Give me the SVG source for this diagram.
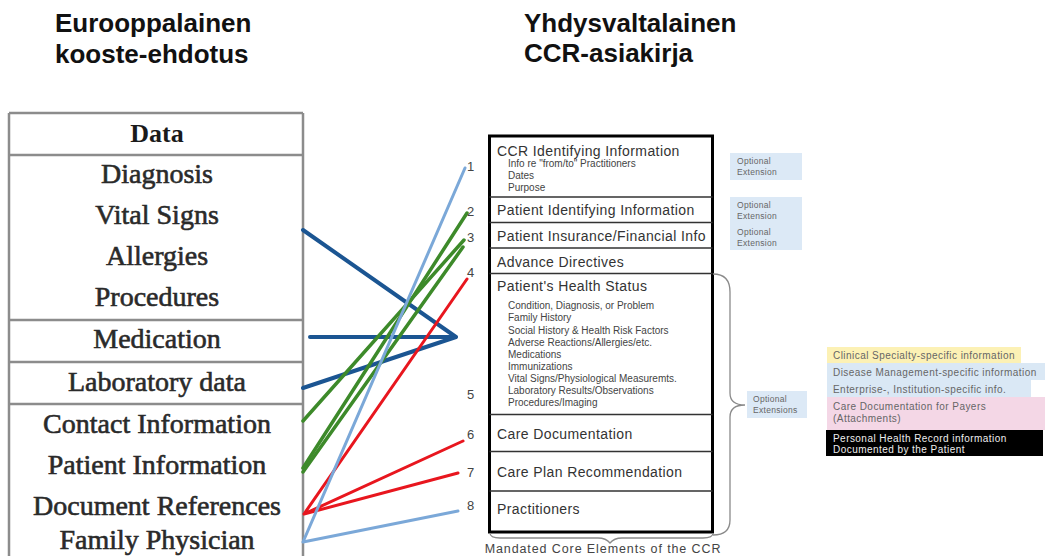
<svg xmlns="http://www.w3.org/2000/svg" width="1045" height="556" viewBox="0 0 1045 556">
<style>
.h{font-family:"Liberation Sans",Arial,sans-serif;font-weight:bold;font-size:26px;fill:#111}
.t{font-family:"Liberation Serif","Times New Roman",serif;font-size:28px;fill:#2a2a2a;stroke:#2a2a2a;stroke-width:0.6;text-anchor:middle}
.tb{font-family:"Liberation Serif","Times New Roman",serif;font-size:26px;font-weight:bold;fill:#1a1a1a;text-anchor:middle}
.grid{stroke:#8c8c8c;stroke-width:2.5;fill:none}
.c1{font-family:"Liberation Sans",Arial,sans-serif;font-size:14px;letter-spacing:0.4px;fill:#333}
.c2{font-family:"Liberation Sans",Arial,sans-serif;font-size:10px;fill:#444}
.num{font-family:"Liberation Sans",Arial,sans-serif;font-size:13px;fill:#444}
.sm{font-family:"Liberation Sans",Arial,sans-serif;font-size:8.5px;letter-spacing:0.3px;fill:#666}
.ext{font-family:"Liberation Sans",Arial,sans-serif;font-size:10px;letter-spacing:0.45px;fill:#666}
.div{stroke:#333;stroke-width:1.6}
.brace{stroke:#8a8a8a;stroke-width:1.3;fill:none}
.db{stroke:#1b5592;stroke-width:4;fill:none;stroke-linecap:round}
.gr{stroke:#3d8a2a;stroke-width:3.5;fill:none;stroke-linecap:round}
.rd{stroke:#e8161e;stroke-width:3;fill:none;stroke-linecap:round}
.lb{stroke:#7ba8d8;stroke-width:3;fill:none;stroke-linecap:round}
</style>
<rect width="1045" height="556" fill="#fff"/>
<g id="titles">
<text class="h" x="55" y="32">Eurooppalainen</text>
<text class="h" x="55" y="63">kooste-ehdotus</text>
<text class="h" x="524" y="32">Yhdysvaltalainen</text>
<text class="h" x="524" y="62">CCR-asiakirja</text>
</g>
<g id="eu-table">
<path class="grid" d="M9,113 H303 M9,155 H303 M9,320 H303 M9,362 H303 M9,404 H303 M9,113 V556 M303,113 V556"/>
<text class="tb" x="157" y="142">Data</text>
<text class="t" x="157" y="183">Diagnosis</text>
<text class="t" x="157" y="224">Vital Signs</text>
<text class="t" x="157" y="265">Allergies</text>
<text class="t" x="157" y="306">Procedures</text>
<text class="t" x="157" y="348">Medication</text>
<text class="t" x="157" y="391">Laboratory data</text>
<text class="t" x="157" y="433">Contact Information</text>
<text class="t" x="157" y="474">Patient Information</text>
<text class="t" x="157" y="515">Document References</text>
<text class="t" x="157" y="549">Family Physician</text>
</g>
<g id="connectors">
<path class="db" d="M303,230 L456,337 M310,337 H456 M303,388 L456,337"/>
<path class="gr" d="M303,421 L464,240"/>
<path class="gr" d="M303,468 L467,213"/>
<path class="gr" d="M303,472 L463,247"/>
<path class="rd" d="M304,514 L467,279 M304,514 L463,441 M304,514 L458,473"/>
<path class="lb" d="M303,542 L465,168 M303,542 L458,511"/>
</g>
<g id="numbers">
<text class="num" x="467" y="171">1</text>
<text class="num" x="467" y="216">2</text>
<text class="num" x="467" y="242">3</text>
<text class="num" x="467" y="277">4</text>
<text class="num" x="467" y="399">5</text>
<text class="num" x="467" y="439">6</text>
<text class="num" x="467" y="477">7</text>
<text class="num" x="467" y="510">8</text>
</g>
<g id="ccr-box">
<rect x="489.5" y="136" width="223" height="396" fill="#fff" stroke="#000" stroke-width="3"/>
<path class="div" d="M489.5,197 H712.5 M489.5,222.5 H712.5 M489.5,248 H712.5 M489.5,273.5 H712.5 M489.5,414.5 H712.5 M489.5,451.5 H712.5 M489.5,491 H712.5"/>
<text class="c1" x="497" y="156">CCR Identifying Information</text>
<text class="c2" x="508" y="167">Info re "from/to" Practitioners</text>
<text class="c2" x="508" y="179">Dates</text>
<text class="c2" x="508" y="191">Purpose</text>
<text class="c1" x="497" y="215">Patient Identifying Information</text>
<text class="c1" x="497" y="241">Patient Insurance/Financial Info</text>
<text class="c1" x="497" y="267">Advance Directives</text>
<text class="c1" x="497" y="291">Patient's Health Status</text>
<text class="c2" x="508" y="309">Condition, Diagnosis, or Problem</text>
<text class="c2" x="508" y="321">Family History</text>
<text class="c2" x="508" y="333.5">Social History &amp; Health Risk Factors</text>
<text class="c2" x="508" y="345.5">Adverse Reactions/Allergies/etc.</text>
<text class="c2" x="508" y="357.5">Medications</text>
<text class="c2" x="508" y="370">Immunizations</text>
<text class="c2" x="508" y="382">Vital Signs/Physiological Measuremts.</text>
<text class="c2" x="508" y="394">Laboratory Results/Observations</text>
<text class="c2" x="508" y="406">Procedures/Imaging</text>
<text class="c1" x="497" y="439">Care Documentation</text>
<text class="c1" x="497" y="477">Care Plan Recommendation</text>
<text class="c1" x="497" y="514">Practitioners</text>
<path class="brace" d="M490,533 Q490,538 500,538 L598,538 Q606,538 610,543 Q614,538 622,538 L703,538 Q713,538 713,533"/>
<text class="c2" x="603" y="553" text-anchor="middle" style="font-size:12.5px;letter-spacing:0.9px">Mandated Core Elements of the CCR</text>
</g>
<g id="optional-ext-top">
<rect x="730" y="153" width="72" height="27" fill="#dce9f6"/>
<text class="sm" x="737" y="164">Optional</text>
<text class="sm" x="737" y="175">Extension</text>
<rect x="730" y="197" width="72" height="53" fill="#dce9f6"/>
<text class="sm" x="737" y="208">Optional</text>
<text class="sm" x="737" y="219">Extension</text>
<text class="sm" x="737" y="235">Optional</text>
<text class="sm" x="737" y="246">Extension</text>
</g>
<g id="optional-extensions">
<path class="brace" d="M713,274 Q730,274 730,292 L730,393 Q730,405 745,405 Q730,405 730,417 L730,520 Q730,535 713,535"/>
<rect x="747" y="391" width="60" height="27" fill="#dce9f6"/>
<text class="sm" x="753" y="402">Optional</text>
<text class="sm" x="753" y="413">Extensions</text>
</g>
<g id="ext-list">
<rect x="827" y="347" width="194" height="16" fill="#fcf1b5"/>
<text class="ext" x="833" y="359">Clinical Specialty-specific information</text>
<rect x="827" y="363" width="218" height="17" fill="#dae8f5"/>
<text class="ext" x="833" y="375.5">Disease Management-specific information</text>
<rect x="827" y="380" width="204" height="17" fill="#dae8f5"/>
<text class="ext" x="833" y="392.5">Enterprise-, Institution-specific info.</text>
<rect x="827" y="397" width="218" height="33" fill="#f4d7e6"/>
<text class="ext" x="833" y="409.5">Care Documentation for Payers</text>
<text class="ext" x="833" y="421.5">(Attachments)</text>
<rect x="826" y="430" width="217" height="26" fill="#000"/>
<text class="ext" x="833" y="441.5" style="fill:#eee">Personal Health Record information</text>
<text class="ext" x="833" y="452.5" style="fill:#eee">Documented by the Patient</text>
</g>
</svg>
